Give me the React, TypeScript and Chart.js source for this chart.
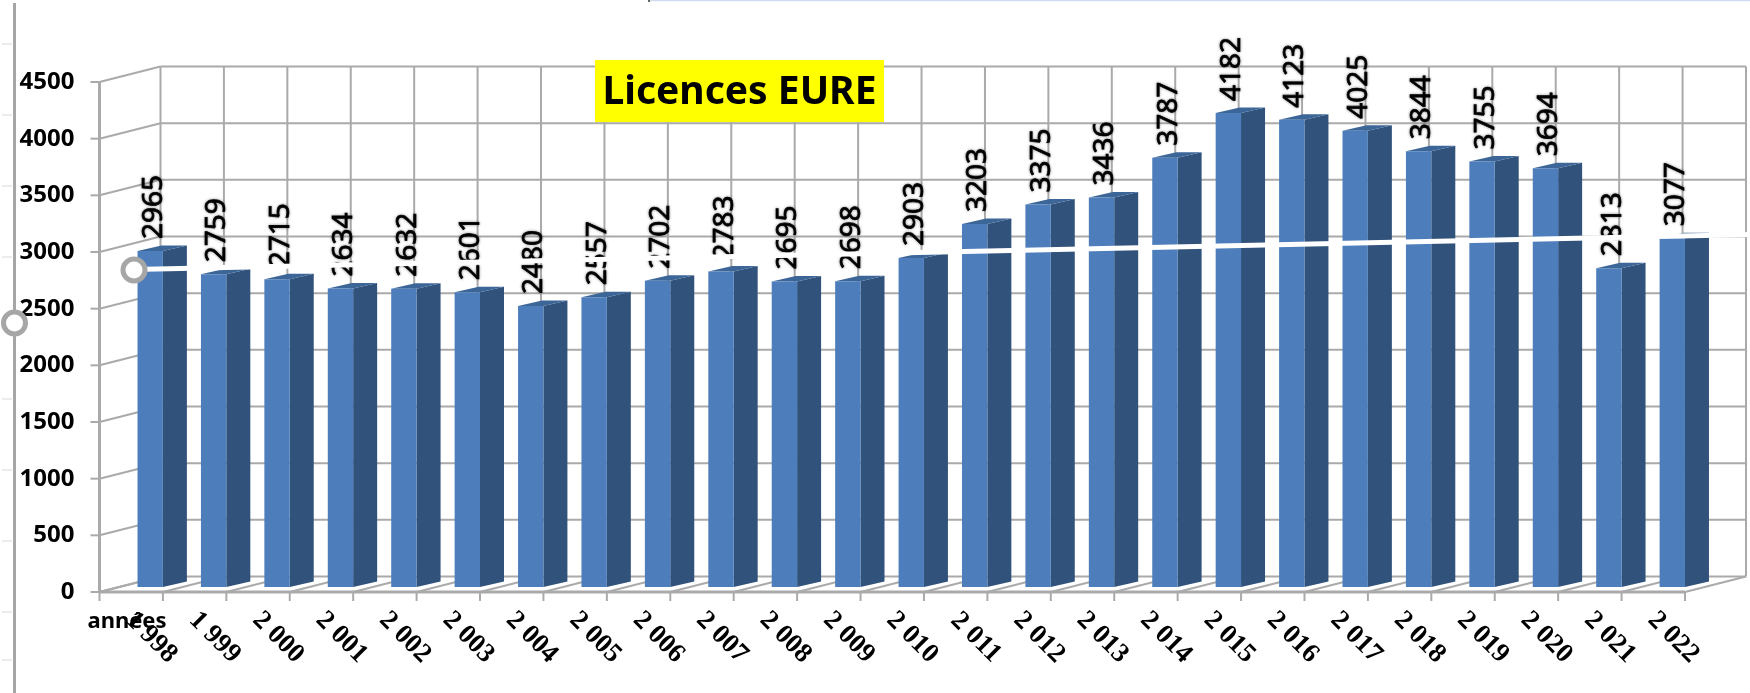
import React, { useEffect, useRef } from "react";
import { Chart, registerables } from "chart.js";

Chart.register(...registerables);

const years = ["1 998","1 999","2 000","2 001","2 002","2 003","2 004","2 005","2 006","2 007","2 008","2 009","2 010","2 011","2 012","2 013","2 014","2 015","2 016","2 017","2 018","2 019","2 020","2 021","2 022"];
const licences = [2965,2759,2715,2634,2632,2601,2480,2557,2702,2783,2695,2698,2903,3203,3375,3436,3787,4182,4123,4025,3844,3755,3694,2813,3077];
const titleText = "Licences EURE";
const cornerText = "années";

const DEPTH_X = 61;
const DEPTH_Y = 15.5;
const BAR_LIFT = 5;
const BAR_SHIFT = 19;
const SIDE_X = 24;
const SIDE_Y = 5.5;
const GRID = "#aaaaaa";

const chrome = {
  id: "chrome3d",
  beforeDatasetsDraw(chart: any) {
    const { ctx } = chart;
    const x = chart.scales.x;
    const y = chart.scales.y;
    const l = x.left, r = x.right, b = y.bottom;
    ctx.save();
    ctx.strokeStyle = GRID;
    ctx.lineWidth = 2;
    const line = (a: number, c: number, d: number, e: number) => {
      ctx.beginPath(); ctx.moveTo(a, c); ctx.lineTo(d, e); ctx.stroke();
    };
    y.ticks.forEach((t: any) => {
      const py = y.getPixelForValue(t.value);
      line(l + DEPTH_X, py - DEPTH_Y, r + DEPTH_X, py - DEPTH_Y);
      line(l - 9, py, l, py);
      line(l, py, l + DEPTH_X, py - DEPTH_Y);
    });
    const step = (r - l) / years.length;
    for (let i = 0; i <= years.length; i++) {
      const px = l + step * i;
      line(px + DEPTH_X, y.top - DEPTH_Y, px + DEPTH_X, b - DEPTH_Y);
      line(px, b, px + DEPTH_X, b - DEPTH_Y);
      line(px, b, px, b + 9);
    }
    ctx.lineWidth = 3;
    line(l, y.top, l, b);
    line(l, b, r, b);
    ctx.restore();
    ctx.save();
    ctx.translate(BAR_SHIFT, -BAR_LIFT);
    chart.getDatasetMeta(0).data.forEach((bar: any) => {
      const right = bar.x + bar.width / 2;
      const left = bar.x - bar.width / 2;
      ctx.fillStyle = "#31527b";
      ctx.beginPath();
      ctx.moveTo(right, b);
      ctx.lineTo(right + SIDE_X, b - SIDE_Y);
      ctx.lineTo(right + SIDE_X, bar.y - SIDE_Y);
      ctx.lineTo(right, bar.y);
      ctx.closePath();
      ctx.fill();
      ctx.fillStyle = "#3d6698";
      ctx.beginPath();
      ctx.moveTo(left, bar.y);
      ctx.lineTo(left + SIDE_X, bar.y - SIDE_Y);
      ctx.lineTo(right + SIDE_X, bar.y - SIDE_Y);
      ctx.lineTo(right, bar.y);
      ctx.closePath();
      ctx.fill();
    });
  },
  afterDatasetsDraw(chart: any) {
    const { ctx } = chart;
    ctx.font = "28px 'Noto Sans'";
    ctx.fillStyle = "#000";
    ctx.strokeStyle = "#000";
    ctx.lineWidth = 0.7;
    ctx.textAlign = "left";
    ctx.textBaseline = "alphabetic";
    ctx.shadowColor = "rgba(0,0,0,0.4)";
    ctx.shadowBlur = 3;
    chart.getDatasetMeta(0).data.forEach((bar: any, i: number) => {
      ctx.save();
      ctx.translate(bar.x + bar.width / 2 - 1, bar.y - 12);
      ctx.rotate(-Math.PI / 2);
      ctx.fillText(String(licences[i]), 0, 0);
      ctx.strokeText(String(licences[i]), 0, 0);
      ctx.restore();
    });
    ctx.restore();
  },
  afterDraw(chart: any) {
    const { ctx } = chart;
    ctx.save();
    ctx.fillStyle = "#ffff00";
    ctx.fillRect(595, 60, 289, 62);
    ctx.fillStyle = "#000";
    ctx.font = "bold 39px 'Noto Sans'";
    ctx.textAlign = "center";
    ctx.textBaseline = "middle";
    ctx.fillText(titleText, 739.5, 93);
    ctx.font = "bold 22px 'Noto Sans'";
    ctx.fillText(cornerText, 127, 622);
    ctx.strokeStyle = "#d9d9d9";
    ctx.lineWidth = 1;
    [44, 115, 186, 257, 328, 399, 470, 541, 612, 660].forEach((py) => {
      ctx.beginPath(); ctx.moveTo(2, py); ctx.lineTo(12, py); ctx.stroke();
    });
    ctx.strokeStyle = "#a6a6a6";
    ctx.lineWidth = 3;
    ctx.beginPath(); ctx.moveTo(14.5, 3); ctx.lineTo(14.5, 693); ctx.stroke();
    ctx.strokeStyle = "#ffffff";
    ctx.lineWidth = 5;
    ctx.beginPath(); ctx.moveTo(134, 269.5); ctx.lineTo(1750, 234.5); ctx.stroke();
    [[134, 270], [14.5, 323]].forEach(([cx, cy]) => {
      ctx.beginPath();
      ctx.arc(cx, cy, 11, 0, Math.PI * 2);
      ctx.fillStyle = "#fff";
      ctx.fill();
      ctx.strokeStyle = "#a6a6a6";
      ctx.lineWidth = 5;
      ctx.stroke();
    });
    ctx.strokeStyle = "#cfdcef";
    ctx.lineWidth = 1.5;
    ctx.beginPath(); ctx.moveTo(650, 0.5); ctx.lineTo(1750, 0.5); ctx.stroke();
    ctx.fillStyle = "#666";
    ctx.fillRect(648, 0, 2, 2);
    ctx.restore();
  },
};

export default function App() {
  const ref = useRef<HTMLCanvasElement>(null);
  useEffect(() => {
    const chart = new Chart(ref.current!, {
      type: "bar",
      data: {
        labels: years,
        datasets: [{
          data: licences,
          backgroundColor: "#4d7ebb",
          barPercentage: 0.4,
          categoryPercentage: 1,
        }],
      },
      plugins: [chrome],
      options: {
        animation: false,
        responsive: false,
        layout: { padding: { left: 0, top: 82, right: 65, bottom: 0 } },
        plugins: { legend: { display: false }, tooltip: { enabled: false }, title: { display: false } },
        scales: {
          x: {
            grid: { display: false },
            border: { display: false },
            afterFit: (s: any) => { s.height = 101; },
            afterDataLimits: (s: any) => { s._getXAxisLabelAlignment = () => "center"; },
            ticks: {
              autoSkip: false,
              minRotation: -45,
              maxRotation: -45,
              labelOffset: 20,
              padding: 26,
              color: "#000",
              font: { family: "'Liberation Serif'", size: 27, weight: "bold" },
            },
          },
          y: {
            min: 0,
            max: 4500,
            afterFit: (s: any) => { s.width = 99.5; },
            grid: { display: false },
            border: { display: false },
            ticks: {
              stepSize: 500,
              padding: 17,
              color: "#000",
              callback: (v: any) => String(v),
              font: { family: "'Noto Sans'", size: 24, weight: "bold" },
            },
          },
        },
      } as any,
    });
    return () => chart.destroy();
  }, []);
  return (
    <canvas
      ref={ref}
      width={1750}
      height={693}
      style={{ position: "fixed", left: 0, top: 0, width: 1750, height: 693, display: "block", filter: "blur(0.6px)" }}
    />
  );
}
